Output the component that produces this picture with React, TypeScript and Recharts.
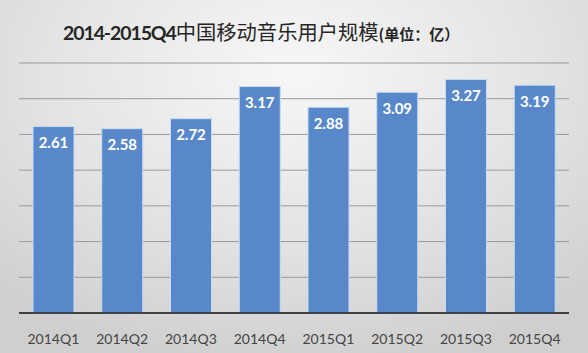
import React from 'react';
import { BarChart, Bar, XAxis, YAxis, CartesianGrid, LabelList } from 'recharts';

const quarters = ['2014Q1', '2014Q2', '2014Q3', '2014Q4', '2015Q1', '2015Q2', '2015Q3', '2015Q4'];
const users = [2.61, 2.58, 2.72, 3.17, 2.88, 3.09, 3.27, 3.19];
const yTicks = [0, 0.5, 1, 1.5, 2, 2.5, 3];

const data = quarters.map((q, i) => ({ q, v: users[i] }));

export default function App() {
  return (
    <div
      style={{
        position: 'absolute',
        left: 0,
        top: 0,
        width: 588,
        height: 353,
        background: 'radial-gradient(ellipse 75% 85% at 50% 20%, #f7f7f7 0%, #e4e4e4 55%, #cfcfcf 100%)',
        overflow: 'hidden',
      }}
    >
      <div
        style={{
          position: 'absolute',
          left: 63,
          top: 16,
          whiteSpace: 'nowrap',
          color: '#262626',
          lineHeight: '30px',
        }}
      >
        <span style={{ fontFamily: 'Lato, "Open Sans", sans-serif', fontWeight: 700, fontSize: 19.5, letterSpacing: -1.1 }}>2014-2015Q4</span>
        <span style={{ fontFamily: '"Noto Sans CJK SC", sans-serif', fontSize: 20.3 }}>中国移动音乐用户规模</span>
        <span style={{ fontFamily: '"Noto Sans CJK SC", sans-serif', fontWeight: 700, fontSize: 15 }}>(单位：亿）</span>
      </div>
      <BarChart
        width={588}
        height={353}
        data={data}
        margin={{ top: 63, right: 19, bottom: 0, left: 19 }}
        barCategoryGap="20%"
      >
        <CartesianGrid horizontal vertical={false} stroke="#9a9a9a" strokeWidth={1} />
        <YAxis hide domain={[0, 3.5]} ticks={yTicks} />
        <XAxis
          dataKey="q"
          height={40}
          tickLine={false}
          tickSize={0}
          tickMargin={17}
          axisLine={{ stroke: '#1a1a1a', strokeWidth: 1.5 }}
          tick={{ fill: '#454545', fontSize: 14, fontFamily: 'Lato, sans-serif', dy: 4 }}
          interval={0}
        />
        <Bar dataKey="v" fill="#5888c9" stroke="#c6dcf3" strokeWidth={1} barSize={41} isAnimationActive={false}>
          <LabelList
            dataKey="v"
            position="insideTop"
            offset={11}
            fill="#ffffff"
            style={{ fontSize: 15, fontWeight: 700, fontFamily: 'Lato, sans-serif' }}
            formatter={(v: number) => v.toFixed(2)}
          />
        </Bar>
      </BarChart>
    </div>
  );
}
